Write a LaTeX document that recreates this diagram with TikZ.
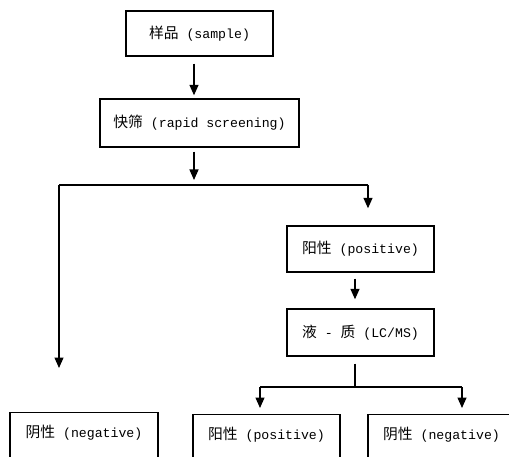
\documentclass[tikz,border=0pt]{standalone}
\usepackage{fontspec}
\setmainfont{Liberation Mono}
\newfontfamily\cjk[Scale=1.12]{Noto Sans CJK SC}
\usetikzlibrary{arrows.meta}
\begin{document}
\begin{tikzpicture}[x=1pt,y=-1pt,
  font=\fontsize{13.2}{15}\selectfont,
  box/.style={draw,line width=1.4pt,minimum height=46pt,inner sep=2pt},
  openbox/.style={draw,line width=1.4pt,anchor=north,text height=22pt,text depth=45pt,inner ysep=3pt,inner xsep=2pt},
  arr/.style={line width=1.4pt,-{Triangle[length=10.5pt,width=9pt]}},
  ln/.style={line width=1.4pt}]
\useasboundingbox (0,0) rectangle (509,457);
\clip (0,0) rectangle (509,457);
\node[box,minimum width=147pt,minimum height=45pt] (sample) at (199.5,33.5) {{\cjk 样品} (sample)};
\node[box,minimum width=199pt,minimum height=48pt] (screen) at (199.5,123) {{\cjk 快筛} (rapid screening)};
\node[box,minimum width=147pt,minimum height=46pt] (pos1) at (360.5,249) {{\cjk 阳性} (positive)};
\node[box,minimum width=147pt,minimum height=47pt] (lcms) at (360.5,332.5) {{\cjk 液} - {\cjk 质} (LC/MS)};
\node[openbox,minimum width=148pt] (neg1) at (84,412) {{\cjk 阴性} (negative)};
\node[openbox,minimum width=147pt] (pos2) at (266.5,414) {{\cjk 阳性} (positive)};
\node[openbox,minimum width=147pt] (neg2) at (441.5,414) {{\cjk 阴性} (negative)};
\coordinate (j1) at (194,185);
\coordinate (bl) at (59,185);
\coordinate (br) at (368,185);
\coordinate (j2) at (355,387);
\coordinate (bl2) at (260,387);
\coordinate (br2) at (462,387);
\draw[arr,shorten <=7pt,shorten >=3pt] ([xshift=-5.5pt]sample.south) -- ([xshift=-5.5pt]screen.north);
\draw[arr,shorten <=4pt,shorten >=5pt] ([xshift=-5.5pt]screen.south) -- (j1);
\draw[ln] (bl) -- (br);
\draw[arr,shorten >=44pt] (bl) -- (bl |- neg1.north);
\draw[arr,shorten >=17pt] (br) -- (br |- pos1.north);
\draw[arr,shorten <=6pt,shorten >=9pt] ([xshift=-5.5pt]pos1.south) -- ([xshift=-5.5pt]lcms.north);
\draw[ln,shorten <=7pt] ([xshift=-5.5pt]lcms.south) -- (j2);
\draw[ln] (bl2) -- (br2);
\draw[arr,shorten >=6pt] (bl2) -- (bl2 |- pos2.north);
\draw[arr,shorten >=6pt] (br2) -- (br2 |- neg2.north);
\end{tikzpicture}
\end{document}
